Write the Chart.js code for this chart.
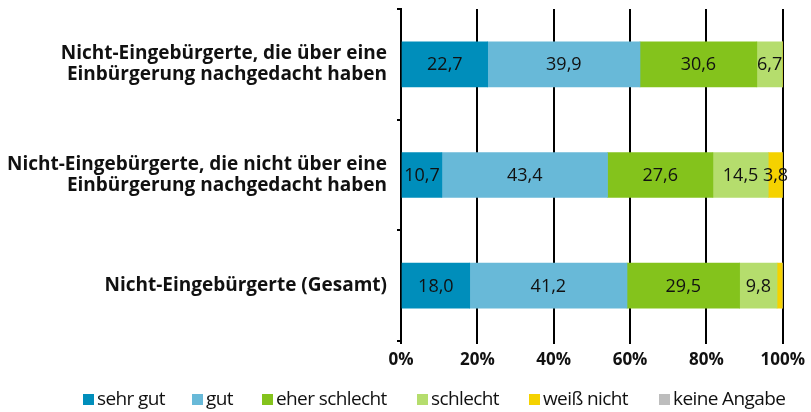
<!DOCTYPE html>
<html>
<head>
<meta charset="utf-8">
<script src="https://cdn.jsdelivr.net/npm/chart.js@4.4.1/dist/chart.umd.min.js"></script>
<style>
    html, body { margin: 0; padding: 0; background: #fff; }
    #wrap { position: relative; width: 811px; height: 412px; }
    #legend { position: absolute; left: 0; top: 385px; width: 811px; height: 26px;
        font-family: 'Open Sans', sans-serif; font-size: 19px; color: #111; letter-spacing: -0.6px; }
    #legend div { position: absolute; top: 0; white-space: nowrap; }
    #legend span.box { display: inline-block; width: 11px; height: 11px; margin-right: 3px; }
</style>
</head>
<body>
<div id="wrap">
    <canvas id="graph" width="811" height="412"></canvas>
    <div id="legend"></div>
</div>
<script>
// カテゴリ
const categories = [
    ['Nicht-Eingebürgerte, die über eine', 'Einbürgerung nachgedacht haben'],
    ['Nicht-Eingebürgerte, die nicht über eine', 'Einbürgerung nachgedacht haben'],
    'Nicht-Eingebürgerte (Gesamt)'
];
// 系列名と色
const seriesNames = ['sehr gut', 'gut', 'eher schlecht', 'schlecht', 'weiß nicht', 'keine Angabe'];
const seriesColors = ['#008EBB', '#68B9D8', '#84C31C', '#B5DD6D', '#F5D200', '#BDBDBD'];
// 値 (%)
const sehrGut = [22.7, 10.7, 18.0];
const gut = [39.9, 43.4, 41.2];
const eherSchlecht = [30.6, 27.6, 29.5];
const schlecht = [6.7, 14.5, 9.8];
const weissNicht = [0.1, 3.8, 1.4];
const keineAngabe = [0, 0, 0.1];
// x軸目盛
const xTicks = [0, 20, 40, 60, 80, 100];

const seriesValues = [sehrGut, gut, eherSchlecht, schlecht, weissNicht, keineAngabe];

let datasets = seriesNames.map((name, i) => ({
    label: name,
    data: seriesValues[i],
    backgroundColor: seriesColors[i],
    borderWidth: 0,
    barThickness: 45
}));

// 値ラベル描画
const valueLabels = {
    id: 'valueLabels',
    afterDatasetsDraw(chart) {
        const ctx = chart.ctx;
        ctx.save();
        ctx.font = '18px "Open Sans", sans-serif';
        ctx.fillStyle = '#111';
        ctx.textAlign = 'center';
        ctx.textBaseline = 'middle';
        chart.data.datasets.forEach((ds, di) => {
            chart.getDatasetMeta(di).data.forEach((bar, idx) => {
                let v = ds.data[idx];
                if (v < 3) return;
                let x = (bar.x + bar.base) / 2;
                ctx.fillText(v.toFixed(1).replace('.', ','), x, bar.y + 1);
            });
        });
        ctx.restore();
    }
};

new Chart(document.getElementById('graph'), {
    type: 'bar',
    data: { labels: categories, datasets },
    options: {
        indexAxis: 'y',
        responsive: false,
        animation: false,
        layout: { padding: { top: 9, right: 26, left: 6, bottom: 41 } },
        plugins: { legend: { display: false }, tooltip: { enabled: false } },
        scales: {
            x: {
                stacked: true,
                min: 0,
                max: 100,
                afterBuildTicks: (scale) => { scale.ticks = xTicks.map(v => ({ value: v })); },
                afterFit: (scale) => { scale.height = 30; },
                grid: { color: '#000', lineWidth: 2, tickLength: 3, drawTicks: true },
                border: { display: false },
                ticks: {
                    color: '#111',
                    padding: 6,
                    font: { family: 'Open Sans', size: 17, weight: 'bold' },
                    callback: (v) => v + '%'
                }
            },
            y: {
                stacked: true,
                afterFit: (scale) => {
                    scale.width = 395;
                    scale.paddingTop = 0;
                    scale.paddingBottom = 0;
                },
                grid: { offset: true, drawOnChartArea: false, color: '#000', lineWidth: 2, tickLength: 4 },
                border: { color: '#000', width: 2 },
                ticks: {
                    color: '#111',
                    padding: 10,
                    font: { family: 'Open Sans', size: 19, weight: 'bold', lineHeight: 1.1 }
                }
            }
        }
    },
    plugins: [valueLabels]
});

// 凡例 (配置は参照画像に合わせる)
const legendLeft = [83, 192, 262, 417, 529, 659];
let html = '';
seriesNames.forEach((name, i) => {
    html += `<div style="left:${legendLeft[i]}px"><span class="box" style="background:${seriesColors[i]}"></span>${name}</div>`;
});
document.getElementById('legend').innerHTML = html;
</script>
</body>
</html>
